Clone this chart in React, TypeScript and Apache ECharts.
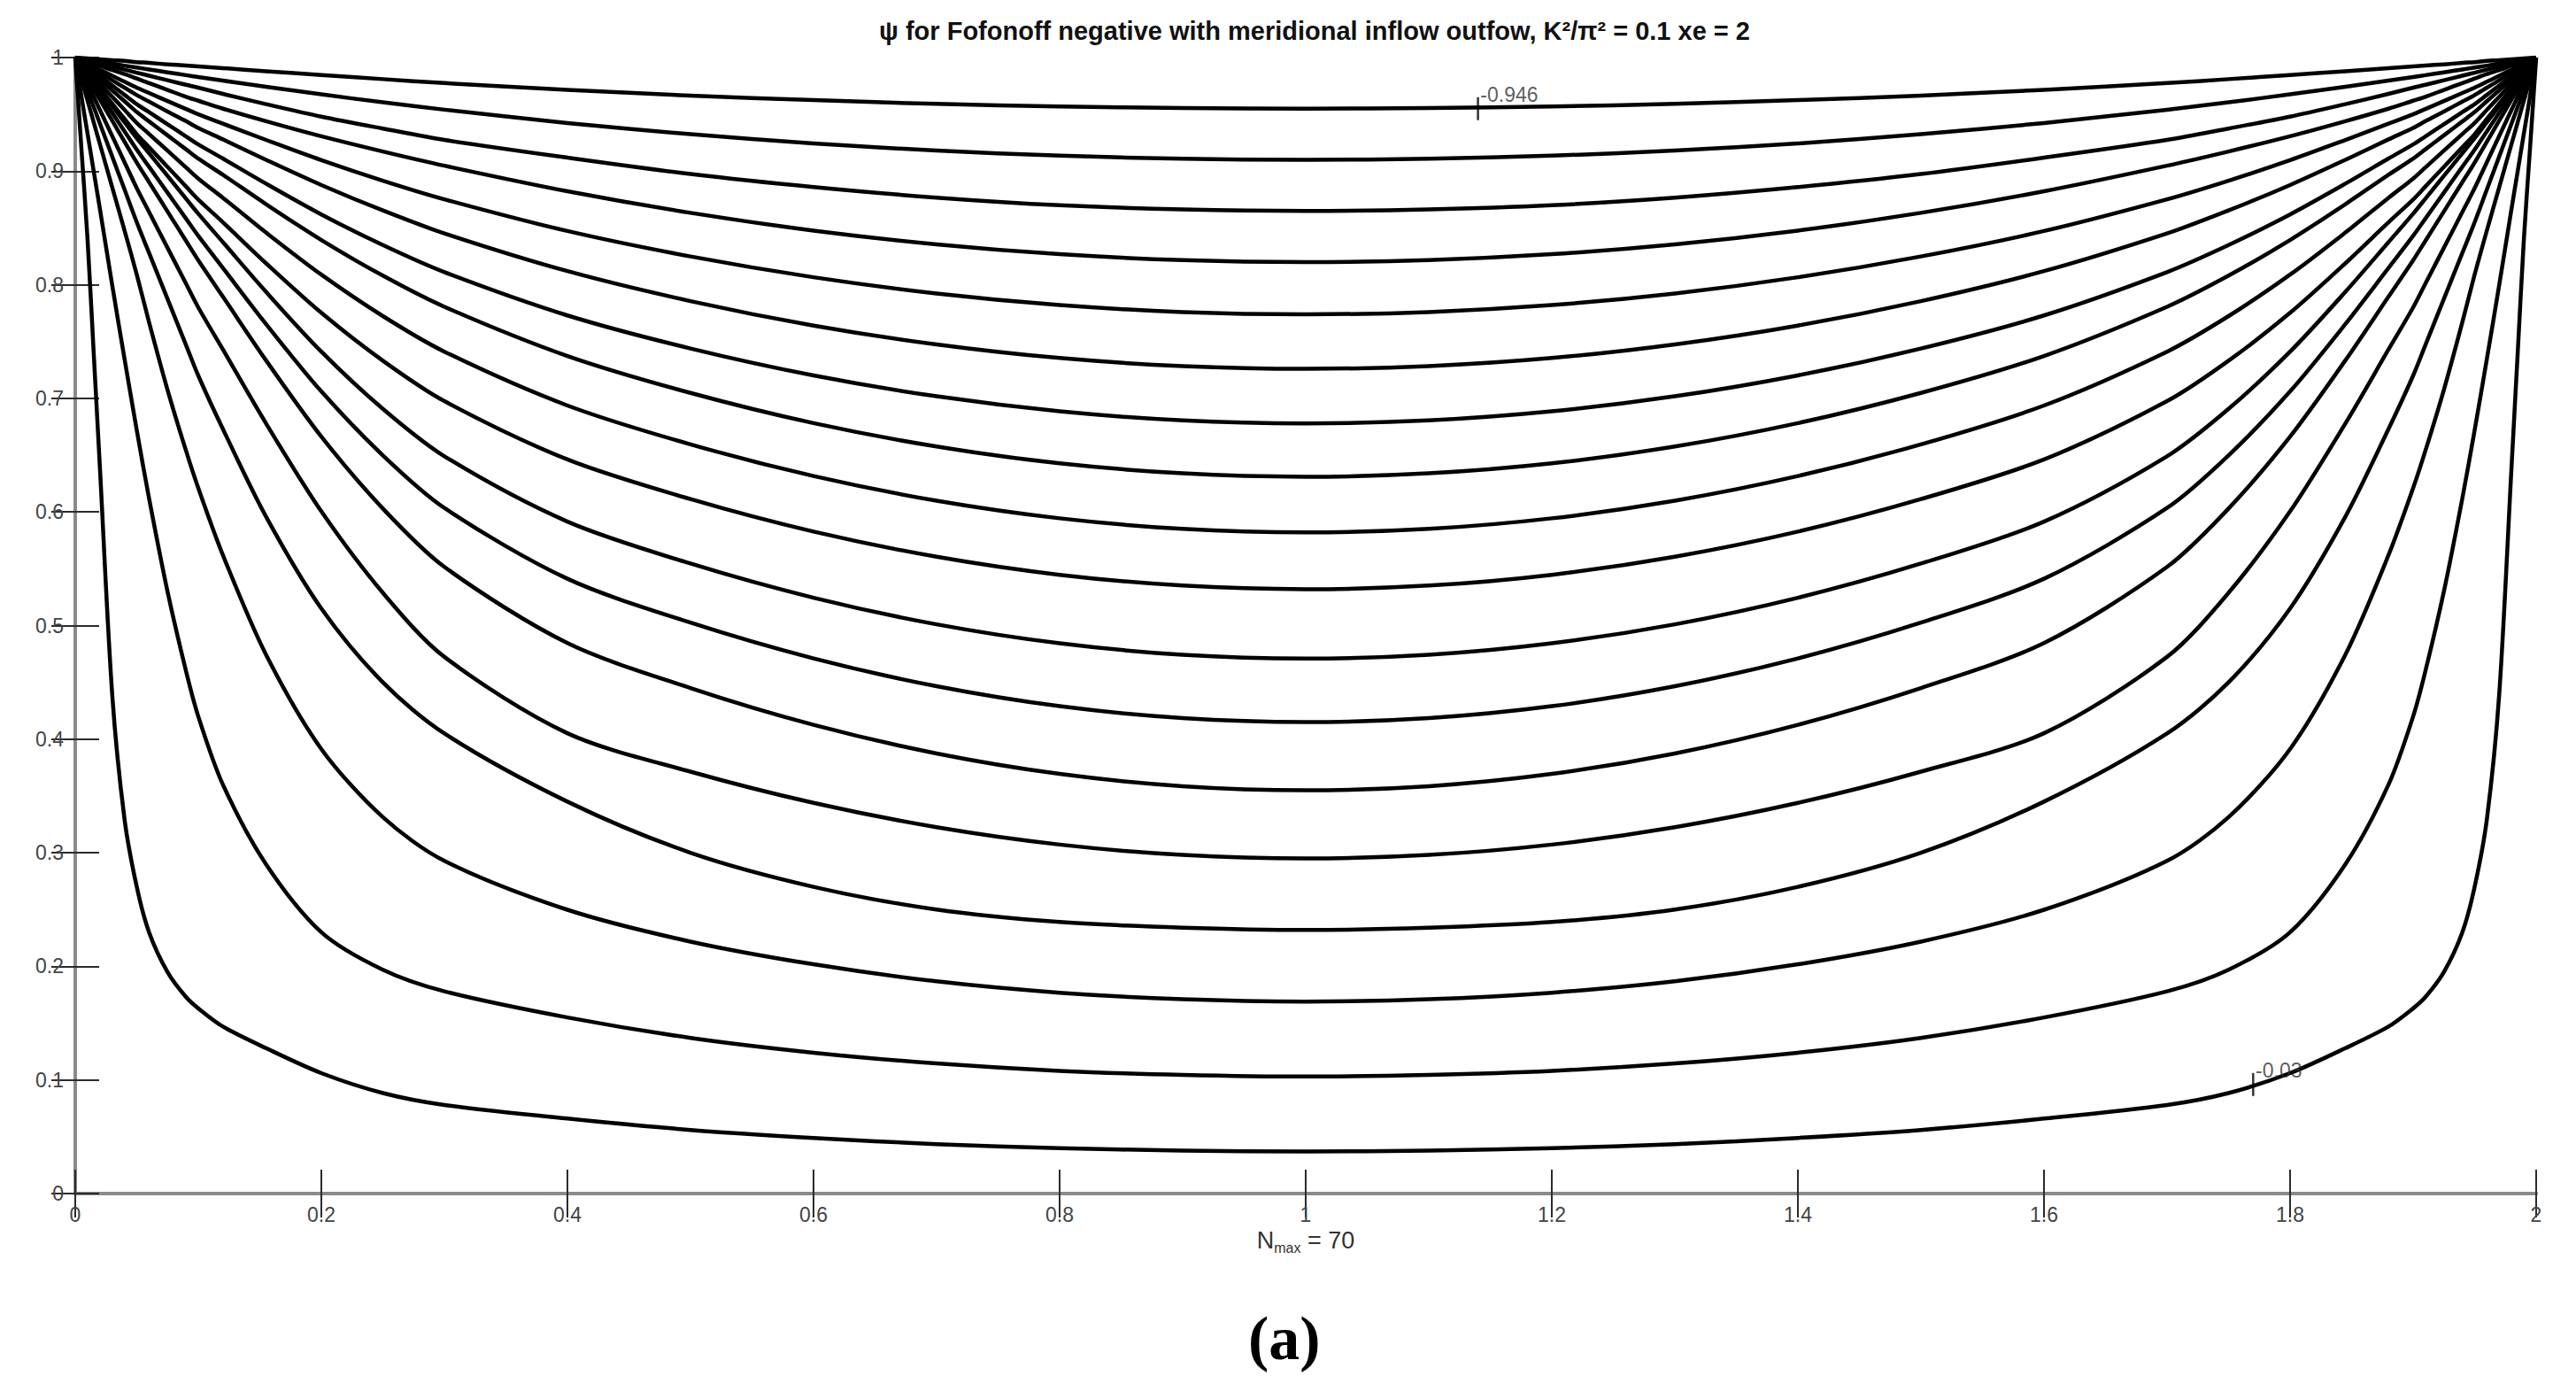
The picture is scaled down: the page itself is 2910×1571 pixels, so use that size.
import React, { useEffect, useRef } from "react";
import * as echarts from "echarts";

// x positions (left half, data units) at which each contour's height was read
const sampleX = [0, 0.005, 0.01, 0.015, 0.02, 0.03, 0.04, 0.05, 0.06, 0.075, 0.09, 0.1, 0.12, 0.155, 0.2, 0.25, 0.3, 0.4, 0.5, 0.6, 0.7, 0.8, 0.9, 1.0];

// contour heights at sampleX (top contour first); the right half mirrors the left
const c00 = [1.0, 0.9996, 0.9992, 0.9988, 0.9985, 0.9977, 0.997, 0.996, 0.9953, 0.994, 0.993, 0.9922, 0.9907, 0.988, 0.9846, 0.981, 0.9775, 0.9716, 0.9665, 0.9625, 0.9592, 0.957, 0.9556, 0.955];
const c01 = [1.0, 0.9991, 0.9982, 0.9973, 0.9964, 0.9947, 0.9929, 0.9912, 0.9895, 0.987, 0.9845, 0.9829, 0.9797, 0.9743, 0.9676, 0.9606, 0.9541, 0.9424, 0.9325, 0.9244, 0.9181, 0.9136, 0.9109, 0.91];
const c02 = [1.0, 0.9987, 0.9974, 0.996, 0.9947, 0.992, 0.9894, 0.9867, 0.984, 0.98, 0.976, 0.9735, 0.968, 0.959, 0.948, 0.9375, 0.9275, 0.9119, 0.8975, 0.886, 0.8767, 0.87, 0.8663, 0.865];
const c03 = [1.0, 0.9982, 0.9964, 0.9946, 0.9928, 0.989, 0.9855, 0.9815, 0.9775, 0.9715, 0.9655, 0.962, 0.955, 0.944, 0.9307, 0.9173, 0.9048, 0.8823, 0.8633, 0.8477, 0.8356, 0.8269, 0.8217, 0.82];
const c04 = [1.0, 0.9973, 0.9946, 0.992, 0.9893, 0.984, 0.9787, 0.9735, 0.9688, 0.9617, 0.9547, 0.95, 0.9418, 0.9275, 0.9097, 0.8916, 0.8752, 0.8473, 0.8249, 0.8066, 0.7923, 0.7821, 0.776, 0.774];
const c05 = [1.0, 0.9966, 0.9932, 0.9899, 0.9866, 0.98, 0.9735, 0.967, 0.9612, 0.9525, 0.944, 0.938, 0.928, 0.91, 0.8878, 0.8654, 0.8452, 0.812, 0.7856, 0.7641, 0.7475, 0.7355, 0.7284, 0.726];
const c06 = [1.0, 0.9959, 0.9918, 0.9877, 0.9836, 0.9754, 0.9672, 0.959, 0.9519, 0.9413, 0.9306, 0.9235, 0.9111, 0.889, 0.8619, 0.8349, 0.8111, 0.773, 0.7439, 0.7202, 0.7018, 0.6886, 0.6806, 0.678];
const c07 = [1.0, 0.9952, 0.9904, 0.9856, 0.9808, 0.9712, 0.9616, 0.952, 0.9438, 0.9315, 0.9192, 0.911, 0.8968, 0.871, 0.8394, 0.808, 0.7806, 0.7373, 0.7048, 0.6782, 0.6576, 0.6428, 0.634, 0.631];
const c08 = [1.0, 0.9943, 0.9885, 0.9828, 0.977, 0.9655, 0.954, 0.9425, 0.9327, 0.918, 0.9033, 0.8935, 0.8765, 0.846, 0.8089, 0.7724, 0.7411, 0.6937, 0.6595, 0.6316, 0.6099, 0.5944, 0.5851, 0.582];
const c09 = [1.0, 0.9933, 0.9865, 0.9798, 0.973, 0.9595, 0.946, 0.9325, 0.921, 0.9038, 0.8865, 0.875, 0.855, 0.819, 0.7753, 0.7331, 0.6975, 0.6462, 0.6113, 0.5827, 0.5606, 0.5447, 0.5352, 0.532];
const c10 = [1.0, 0.9929, 0.9858, 0.9787, 0.9716, 0.9574, 0.9432, 0.929, 0.9157, 0.8958, 0.8758, 0.8625, 0.8375, 0.7938, 0.7411, 0.6907, 0.649, 0.5915, 0.5546, 0.5245, 0.5011, 0.4844, 0.4743, 0.471];
const c11 = [1.0, 0.9919, 0.9838, 0.9757, 0.9676, 0.9514, 0.9352, 0.919, 0.9038, 0.881, 0.8582, 0.843, 0.8148, 0.7655, 0.7061, 0.6498, 0.6035, 0.5412, 0.5026, 0.4711, 0.4466, 0.429, 0.4185, 0.415];
const c12 = [1.0, 0.9908, 0.9815, 0.9723, 0.963, 0.9445, 0.926, 0.9075, 0.8903, 0.8645, 0.8387, 0.8215, 0.7895, 0.7335, 0.6663, 0.603, 0.5516, 0.4846, 0.445, 0.4126, 0.3874, 0.3694, 0.3586, 0.355];
const c13 = [1.0, 0.9885, 0.977, 0.9655, 0.954, 0.931, 0.908, 0.885, 0.864, 0.8325, 0.801, 0.78, 0.743, 0.678, 0.6005, 0.5288, 0.4724, 0.4052, 0.3714, 0.3439, 0.3225, 0.3072, 0.2981, 0.295];
const c14 = [1.0, 0.9855, 0.971, 0.9565, 0.942, 0.913, 0.884, 0.855, 0.828, 0.7875, 0.747, 0.72, 0.673, 0.596, 0.515, 0.45, 0.405, 0.345, 0.3, 0.27, 0.25, 0.239, 0.234, 0.232];
const c15 = [1.0, 0.981, 0.962, 0.943, 0.924, 0.886, 0.848, 0.809, 0.767, 0.7075, 0.654, 0.621, 0.562, 0.4745, 0.3913, 0.3313, 0.2928, 0.2498, 0.2218, 0.2018, 0.1868, 0.1768, 0.171, 0.169];
const c16 = [1.0, 0.966, 0.933, 0.9, 0.867, 0.8, 0.735, 0.672, 0.612, 0.53, 0.46, 0.42, 0.36, 0.29, 0.23, 0.197, 0.178, 0.155, 0.137, 0.124, 0.1145, 0.108, 0.1045, 0.103];
const c17 = [1.0, 0.92, 0.84, 0.74, 0.64, 0.44, 0.33, 0.27, 0.23, 0.195, 0.173, 0.163, 0.147, 0.128, 0.106, 0.0885, 0.078, 0.066, 0.056, 0.049, 0.0435, 0.04, 0.0378, 0.037];

const contours = [c00, c01, c02, c03, c04, c05, c06, c07, c08, c09, c10, c11, c12, c13, c14, c15, c16, c17];

// inline contour labels (MATLAB clabel style)
const labelTexts = ["-0.946", "-0.03"];
const labelX = [1.14, 1.77];
const labelY = [0.955, 0.096];

const xMin = 0;
const xMax = 2;
const xStep = 0.2;
const yMin = 0;
const yMax = 1;
const yStep = 0.1;

const titleText = "ψ for Fofonoff negative with meridional inflow outfow, K²/π² = 0.1 xe = 2";
const panelText = "(a)";

function buildCurve(ys: number[]): number[][] {
  const left = sampleX.map((x, i) => [x, ys[i]]);
  const right: number[][] = [];
  for (let i = sampleX.length - 2; i >= 0; i--) {
    right.push([xMax - sampleX[i], ys[i]]);
  }
  return left.concat(right);
}

function fmt(v: number): string {
  const r = Math.round(v * 10) / 10;
  return String(r);
}

export default function App() {
  const ref = useRef<HTMLDivElement>(null);

  useEffect(() => {
    if (!ref.current) return;
    const chart = echarts.init(ref.current, null, { renderer: "svg" });

    const font = "Liberation Sans, Arial, sans-serif";
    const axisLine = { show: true, lineStyle: { color: "#8a8a8a", width: 4 } };
    const axisTick = { show: true, inside: true, length: 27, lineStyle: { color: "#2b2b2b", width: 2 } };
    const labelStyle = { color: "#444", fontSize: 23, fontFamily: font };

    const series: any[] = contours.map((ys, k) => ({
      type: "line",
      name: "c" + k,
      xAxisIndex: 0,
      yAxisIndex: 0,
      data: buildCurve(ys),
      showSymbol: false,
      smooth: 0.3,
      lineStyle: { color: "#000", width: 4.5, join: "round" },
      silent: true,
      z: 3,
    }));

    series.push({
      type: "scatter",
      xAxisIndex: 0,
      yAxisIndex: 0,
      data: labelTexts.map((t, i) => ({ value: [labelX[i], labelY[i]], name: t })),
      symbol: "rect",
      symbolSize: [2.5, 26],
      itemStyle: { color: "#000" },
      label: {
        show: true,
        formatter: (p: any) => p.name,
        position: [4, -14],
        align: "left",
        verticalAlign: "top",
        color: "#333",
        fontSize: 23,
        fontFamily: font,
      },
      z: 5,
    });

    chart.setOption({
      animation: false,
      backgroundColor: "#fff",
      title: {
        text: titleText,
        left: 1480,
        top: 15,
        textAlign: "center",
        textStyle: {
          fontSize: 29,
          fontWeight: "bold",
          color: "#111",
          fontFamily: font,
        },
      },
      grid: { left: 85, right: 45, top: 65, bottom: 223, containLabel: false },
      xAxis: [
        {
          type: "value",
          position: "bottom",
          min: xMin,
          max: xMax,
          interval: xStep,
          axisLine,
          axisTick,
          splitLine: { show: false },
          axisLabel: { ...labelStyle, margin: 12, formatter: fmt },
          name: "{n|N}{s|max}{n| = 70}",
          nameLocation: "middle",
          nameGap: 30,
          nameTextStyle: {
            rich: {
              n: { fontSize: 27, color: "#333", fontFamily: font },
              s: { fontSize: 16, color: "#333", fontFamily: font, verticalAlign: "bottom", padding: [16, 0, 0, 0] },
            },
          },
        },
        {
          type: "value",
          position: "top",
          min: xMin,
          max: xMax,
          interval: xStep,
          axisLine,
          axisTick,
          splitLine: { show: false },
          axisLabel: { show: false },
        },
      ],
      yAxis: [
        {
          type: "value",
          position: "left",
          min: yMin,
          max: yMax,
          interval: yStep,
          axisLine,
          axisTick,
          splitLine: { show: false },
          axisLabel: { ...labelStyle, margin: 13, formatter: fmt },
        },
        {
          type: "value",
          position: "right",
          min: yMin,
          max: yMax,
          interval: yStep,
          axisLine,
          axisTick,
          splitLine: { show: false },
          axisLabel: { show: false },
        },
      ],
      graphic: [
        {
          type: "text",
          left: 1410,
          top: 1476,
          style: {
            text: panelText,
            fontSize: 70,
            fontWeight: "bold",
            fontFamily: "Liberation Serif, Times New Roman, serif",
            fill: "#000",
          },
        },
      ],
      series,
    });

    return () => chart.dispose();
  }, []);

  return (
    <div
      ref={ref}
      style={{ position: "absolute", left: 0, top: 0, width: 2910, height: 1571 }}
    />
  );
}
